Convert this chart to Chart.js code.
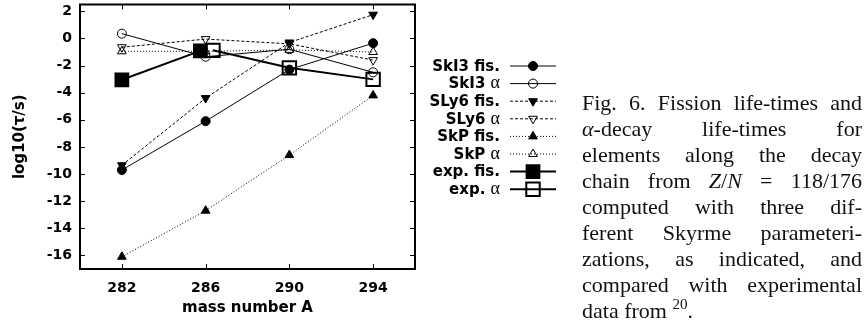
<!DOCTYPE html>
<html>
<head>
<meta charset="utf-8">
<script src="https://cdn.jsdelivr.net/npm/chart.js@4.4.1/dist/chart.umd.min.js"></script>
<style>
  body { margin: 0; background: #fff; }
  #wrap { position: relative; width: 867px; height: 323px; }
  #myChart { position: absolute; left: 0; top: 0; }
  #caption {
    position: absolute; left: 582px; top: 90px; width: 280px;
    font-family: 'Liberation Serif', serif; font-size: 22px; line-height: 26px; color: #111;
  }
  #caption .j { text-align: justify; text-align-last: justify; white-space: nowrap; }
  #caption sup { font-size: 15px; line-height: 0; vertical-align: 0; position: relative; top: -9px; }
</style>
</head>
<body>
<div id="wrap">
  <canvas id="myChart" width="867" height="323"></canvas>
  <div id="caption">
    <div class="j"><span>Fig. 6. Fission life-times and</span></div>
    <div class="j"><i>α</i>-decay life-times for</div>
    <div class="j">elements along the decay</div>
    <div class="j">chain from <i>Z</i>/<i>N</i> = 118/176</div>
    <div class="j">computed with three dif-</div>
    <div class="j">ferent Skyrme parameteri-</div>
    <div class="j">zations, as indicated, and</div>
    <div class="j">compared with experimental</div>
    <div>data from <sup>20</sup>.</div>
  </div>
</div>
<script>
// mass numbers along the decay chain
const massNumbers = [282, 286, 290, 294];
const xTicks = [282, 286, 290, 294];
const yTicks = [-16, -14, -12, -10, -8, -6, -4, -2, 0, 2];

// log10(tau/s)
const ski3Fis   = [-9.7, -6.1, -2.3, -0.35];
const ski3Alpha = [0.35, -1.35, -0.8, -2.5];
const sly6Fis   = [-9.35, -4.4, -0.3, 1.75];
const sly6Alpha = [-0.65, -0.05, -0.4, -1.6];
const skpFis    = [-16.1, -12.7, -8.6, -4.2];
const skpAlpha  = [-0.95, -0.95, -0.85, -1.0];

// experimental points (slightly offset around A=286 in the figure)
const expFisA   = [282, 285.75];
const expFis    = [-3.05, -0.92];
const expAlphaA = [286.35, 290, 294];
const expAlpha  = [-0.88, -2.17, -3.02];

const labels = ['SkI3 fis.', 'SkI3 α', 'SLy6 fis.', 'SLy6 α', 'SkP fis.', 'SkP α', 'exp. fis.', 'exp. α'];

function pts(xs, ys) {
  return xs.map((x, i) => ({ x: x, y: ys[i] }));
}

const SOLID = [], DASH = [3, 2], DOT = [1, 2];
const OPEN = 'rgba(0,0,0,0)';

function series(label, data, marker, radius, filled, dash, width, rot) {
  return {
    label: label,
    data: data,
    borderColor: '#000',
    borderWidth: width,
    borderDash: dash,
    pointStyle: marker,
    pointRadius: radius,
    pointRotation: rot || 0,
    pointBorderColor: '#000',
    pointBackgroundColor: filled ? '#000' : OPEN,
    pointBorderWidth: width > 1 ? 2 : 1,
    fill: false,
    tension: 0
  };
}

const datasets = [
  series(labels[0], pts(massNumbers, ski3Fis), 'circle', 4.5, true, SOLID, 1),
  series(labels[1], pts(massNumbers, ski3Alpha), 'circle', 4.5, false, SOLID, 1),
  series(labels[2], pts(massNumbers, sly6Fis), 'triangle', 5, true, DASH, 1, 180),
  series(labels[3], pts(massNumbers, sly6Alpha), 'triangle', 5, false, DASH, 1, 180),
  series(labels[4], pts(massNumbers, skpFis), 'triangle', 5, true, DOT, 1),
  series(labels[5], pts(massNumbers, skpAlpha), 'triangle', 5, false, DOT, 1),
  series(labels[6], pts(expFisA, expFis), 'rect', 9, true, SOLID, 2),
  series(labels[7], pts(expAlphaA, expAlpha), 'rect', 9.5, false, SOLID, 2)
];

// box + inward tick marks, gnuplot style
const frame = {
  id: 'frame',
  afterDatasetsDraw(chart) {
    const ctx = chart.ctx, a = chart.chartArea;
    const xs = chart.scales.x, ys = chart.scales.y;
    ctx.save();
    ctx.strokeStyle = '#000';
    ctx.lineWidth = 1;
    ctx.setLineDash([]);
    ctx.beginPath();
    xTicks.forEach(v => {
      const px = Math.round(xs.getPixelForValue(v)) + 0.5;
      ctx.moveTo(px, a.bottom); ctx.lineTo(px, a.bottom - 5);
      ctx.moveTo(px, a.top); ctx.lineTo(px, a.top + 5);
    });
    yTicks.forEach(v => {
      const py = Math.round(ys.getPixelForValue(v)) + 0.5;
      ctx.moveTo(a.left, py); ctx.lineTo(a.left + 5, py);
      ctx.moveTo(a.right, py); ctx.lineTo(a.right - 5, py);
    });
    ctx.stroke();
    ctx.lineWidth = 2;
    ctx.strokeRect(a.left, a.top, a.right - a.left, a.bottom - a.top);
    ctx.restore();
  }
};

// legend on the right: label right-aligned, sample line with marker
const sideLegend = {
  id: 'sideLegend',
  afterDraw(chart) {
    const ctx = chart.ctx;
    const textRight = 500, x0 = 510, x1 = 556, top = 66, step = 17.6;
    ctx.save();
    chart.data.datasets.forEach((ds, i) => {
      const y = top + i * step;
      ctx.fillStyle = '#000';
      ctx.textBaseline = 'middle';
      ctx.textAlign = 'right';
      let txt = ds.label, greek = '';
      if (txt.endsWith('α')) { greek = 'α'; txt = txt.slice(0, -1); }
      let r = textRight;
      if (greek) {
        ctx.font = '18px "Liberation Serif"';
        ctx.fillText(greek, r, y);
        r -= ctx.measureText(greek).width;
      }
      ctx.font = 'bold 15px "DejaVu Sans"';
      ctx.fillText(txt, r, y + 1);

      ctx.strokeStyle = '#000';
      ctx.lineWidth = ds.borderWidth;
      ctx.setLineDash(ds.borderDash);
      ctx.beginPath();
      ctx.moveTo(x0, y); ctx.lineTo(x1, y);
      ctx.stroke();
      ctx.setLineDash([]);
      ctx.fillStyle = ds.pointBackgroundColor;
      ctx.lineWidth = ds.pointBorderWidth;
      Chart.helpers.drawPoint(ctx, {
        pointStyle: ds.pointStyle,
        radius: ds.pointRadius,
        rotation: ds.pointRotation,
        borderWidth: ds.pointBorderWidth
      }, (x0 + x1) / 2, y);
    });
    ctx.restore();
  }
};

var ctx = document.getElementById('myChart');
var myChart = new Chart(ctx, {
  type: 'line',
  data: { datasets: datasets },
  options: {
    responsive: false,
    animation: false,
    layout: { autoPadding: false, padding: { left: 0, top: 4.5, right: 452, bottom: 0 } },
    plugins: { legend: { display: false }, tooltip: { enabled: false } },
    scales: {
      x: {
        type: 'linear',
        min: 280,
        max: 296,
        afterBuildTicks: s => { s.ticks = xTicks.map(v => ({ value: v })); },
        afterFit: s => { s.height = 323 - 269; s.paddingLeft = 0; s.paddingRight = 0; },
        grid: { display: false },
        border: { display: false },
        ticks: {
          color: '#000',
          padding: 3,
          font: { family: 'DejaVu Sans', weight: 'bold', size: 14 }
        },
        title: {
          display: true,
          text: 'mass number A',
          color: '#000',
          padding: { top: 0, bottom: 6 },
          font: { family: 'DejaVu Sans', weight: 'bold', size: 15 }
        }
      },
      y: {
        min: -17,
        max: 2.5,
        afterBuildTicks: s => { s.ticks = yTicks.map(v => ({ value: v })); },
        afterFit: s => { s.width = 80; s.paddingTop = 0; s.paddingBottom = 0; },
        grid: { display: false },
        border: { display: false },
        ticks: {
          color: '#000',
          padding: 0,
          font: { family: 'DejaVu Sans', weight: 'bold', size: 14 }
        },
        title: {
          display: true,
          text: 'log10(τ/s)',
          color: '#000',
          padding: { top: 11, bottom: 0 },
          font: { family: 'DejaVu Sans', weight: 'bold', size: 15 }
        }
      }
    }
  },
  plugins: [frame, sideLegend]
});
</script>
</body>
</html>
